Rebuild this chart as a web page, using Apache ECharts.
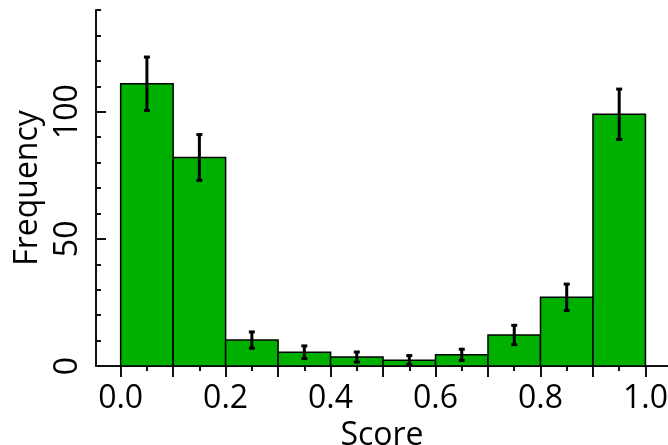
<!DOCTYPE html>
<html>
<head>
<meta charset="utf-8">
<script src="https://cdn.jsdelivr.net/npm/echarts@6/dist/echarts.min.js"></script>
<style>html,body{margin:0;padding:0;background:#fff;}#c{width:668px;height:445px;}</style>
</head>
<body>
<div id="c"></div>
<script>
// Histogram bins (start of each 0.1-wide bin)
const binStarts = [0.0, 0.1, 0.2, 0.3, 0.4, 0.5, 0.6, 0.7, 0.8, 0.9];
const binWidth = 0.1;
const frequencies = [111, 82, 10.2, 5.4, 3.5, 2.3, 4.4, 12.2, 27, 99];
const errors = [10.5, 9, 3.2, 2.5, 2, 1.8, 2.2, 3.8, 5.2, 9.9];

const xMajorTicks = [0.0, 0.1, 0.2, 0.3, 0.4, 0.5, 0.6, 0.7, 0.8, 0.9, 1.0];
const xMinorTicks = [0.05, 0.15, 0.25, 0.35, 0.45, 0.55, 0.65, 0.75, 0.85, 0.95];
const xLabels = [0.0, 0.2, 0.4, 0.6, 0.8, 1.0];
const yMajorTicks = [0, 50, 100];
const yLabels = [0, 50, 100];

const FONT = '"Open Sans", "Noto Sans", sans-serif';
const chart = echarts.init(document.getElementById('c'), null, {renderer: 'canvas'});

const barData = binStarts.map((s, i) => [s, s + binWidth, frequencies[i]]);
const errData = binStarts.map((s, i) => [s + binWidth / 2, frequencies[i] - errors[i], frequencies[i] + errors[i]]);

const axisLine = {show: true, onZero: false, lineStyle: {color: '#111', width: 2}};

chart.setOption({
  animation: false,
  backgroundColor: '#fff',
  grid: {left: 96, top: 10, width: 572, height: 356, containLabel: false, outerBoundsMode: 'none'},
  xAxis: [{
    type: 'value', min: -0.047, max: 1.043, position: 'bottom',
    name: 'Score', nameLocation: 'middle', nameGap: 48,
    nameTextStyle: {fontFamily: FONT, fontSize: 32, color: '#000'},
    axisLine: axisLine,
    axisTick: {show: true, customValues: xMajorTicks, length: 11, lineStyle: {color: '#111', width: 2}},
    axisLabel: {show: true, customValues: xLabels, margin: 17, fontFamily: FONT, fontSize: 32, color: '#000',
      formatter: v => v.toFixed(1)},
    splitLine: {show: false}
  }, {
    type: 'value', min: -0.047, max: 1.043, position: 'bottom', offset: 0,
    axisLine: {show: false, onZero: false},
    axisTick: {show: true, customValues: xMinorTicks, length: 5, lineStyle: {color: '#111', width: 2}},
    axisLabel: {show: false},
    splitLine: {show: false}
  }],
  yAxis: [{
    type: 'value', min: 0, max: 140, interval: 10, position: 'left',
    name: 'Frequency', nameLocation: 'middle', nameGap: 46,
    nameTextStyle: {fontFamily: FONT, fontSize: 32, color: '#000'},
    axisLine: axisLine,
    axisTick: {show: true, inside: true, length: 5, lineStyle: {color: '#111', width: 2}},
    axisLabel: {show: true, customValues: yLabels, rotate: 90, margin: 12, fontFamily: FONT, fontSize: 32, color: '#000'},
    splitLine: {show: false}
  }, {
    type: 'value', min: 0, max: 140, position: 'left', offset: 0,
    axisLine: {show: false, onZero: false},
    axisTick: {show: true, inside: true, customValues: yMajorTicks, length: 10, lineStyle: {color: '#111', width: 2}},
    axisLabel: {show: false},
    splitLine: {show: false}
  }],
  series: [{
    type: 'custom',
    xAxisIndex: 0, yAxisIndex: 0,
    data: barData,
    renderItem: function (params, api) {
      const p0 = api.coord([api.value(0), api.value(2)]);
      const p1 = api.coord([api.value(1), 0]);
      return {
        type: 'rect',
        shape: {x: p0[0], y: p0[1], width: p1[0] - p0[0], height: p1[1] - p0[1]},
        style: {fill: '#00b000', stroke: '#000', lineWidth: 1.5}
      };
    }
  }, {
    type: 'custom',
    xAxisIndex: 0, yAxisIndex: 0,
    data: errData,
    z: 5,
    renderItem: function (params, api) {
      const lo = api.coord([api.value(0), api.value(1)]);
      const hi = api.coord([api.value(0), api.value(2)]);
      const st = {stroke: '#000', lineWidth: 3};
      return {
        type: 'group',
        children: [
          {type: 'line', shape: {x1: lo[0], y1: lo[1], x2: hi[0], y2: hi[1]}, style: st},
          {type: 'line', shape: {x1: lo[0] - 3, y1: lo[1], x2: lo[0] + 3, y2: lo[1]}, style: st},
          {type: 'line', shape: {x1: hi[0] - 3, y1: hi[1], x2: hi[0] + 3, y2: hi[1]}, style: st}
        ]
      };
    }
  }]
});
</script>
</body>
</html>
